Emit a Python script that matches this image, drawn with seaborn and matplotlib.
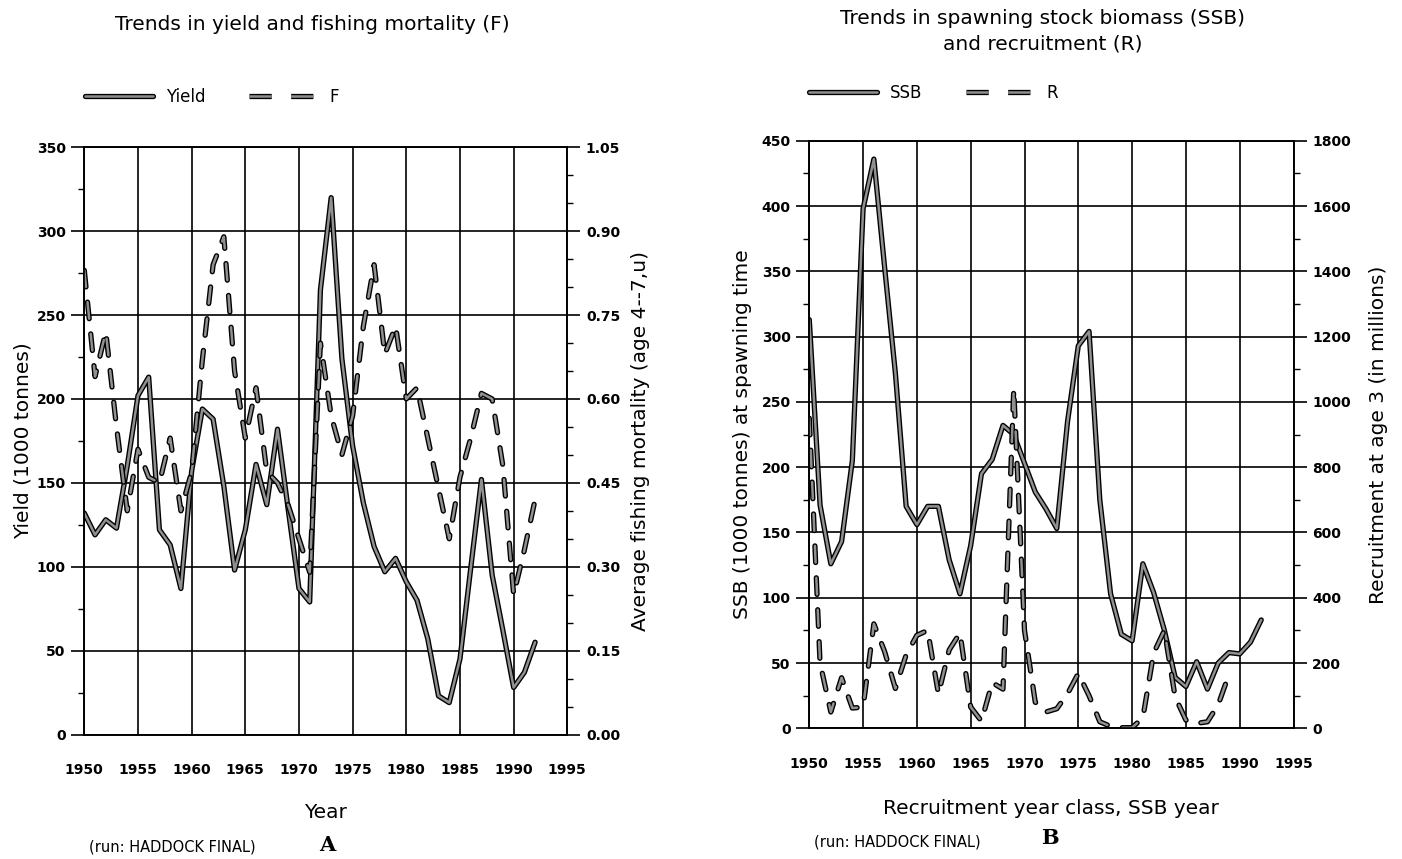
import numpy as np
import pandas as pd
import matplotlib
matplotlib.use("Agg")
import matplotlib.pyplot as plt
import matplotlib.patheffects as pe
from matplotlib.lines import Line2D
from matplotlib.ticker import MultipleLocator, FormatStrFormatter
import seaborn as sns

# ---------------- data ----------------
years = list(range(1950, 1993))
yield_kt = [132, 119, 128, 123, 160, 202, 213, 122, 113, 87,
            157, 194, 188, 148, 98, 122, 161, 137, 182, 134,
            87, 79, 265, 320, 224, 172, 138, 112, 97, 105,
            91, 80, 57, 23, 19, 45, 99, 152, 95, 62,
            28, 37, 55]
fishing_f = [0.83, 0.64, 0.72, 0.55, 0.40, 0.51, 0.46, 0.45, 0.53, 0.40,
             0.47, 0.67, 0.84, 0.89, 0.65, 0.53, 0.62, 0.47, 0.45, 0.41,
             0.35, 0.29, 0.70, 0.57, 0.50, 0.57, 0.73, 0.84, 0.68, 0.73,
             0.60, 0.62, 0.53, 0.44, 0.35, 0.46, 0.53, 0.61, 0.60, 0.48,
             0.25, 0.33, 0.42]
ssb_kt = [313, 171, 126, 143, 205, 398, 436, 353, 272, 170,
          156, 170, 170, 129, 103, 140, 195, 206, 232, 225,
          203, 181, 168, 153, 235, 293, 304, 175, 103, 72,
          67, 126, 104, 75, 39, 32, 51, 30, 50, 58,
          57, 66, 83]
recruit_years = list(range(1950, 1990))
recruits = [950, 200, 50, 155, 62, 65, 320, 235, 122, 225,
            285, 300, 105, 240, 292, 65, 22, 140, 120, 1040,
            300, 80, 50, 60, 106, 168, 100, 20, 6, 2,
            2, 32, 230, 300, 96, 25, 15, 20, 72, 165]

left_title = "Trends in yield and fishing mortality (F)"
right_title = "Trends in spawning stock biomass (SSB)\nand recruitment (R)"
run_note = "(run: HADDOCK FINAL)"

# ---------------- style ----------------
sns.set_style("white")
plt.rcParams['font.family'] = ['DejaVu Sans']
plt.rcParams['lines.scale_dashes'] = False
for key in ['text.color', 'axes.labelcolor', 'xtick.color', 'ytick.color']:
    plt.rcParams[key] = 'black'

W, H = 1402, 859
fig = plt.figure(figsize=(W / 100, H / 100), dpi=100)
fig.patch.set_facecolor("white")


def px_axes(x0, x1, ytop, ybot):
    return fig.add_axes([x0 / W, 1 - ybot / H, (x1 - x0) / W, (ybot - ytop) / H])


TICKFONT = dict(family=['Liberation Sans Narrow', 'DejaVu Sans'], weight='bold', size=10)
LW = 1.2
LINE_COLOR = '#909090'
STROKE = [pe.Stroke(linewidth=3.8, foreground='black'), pe.Normal()]
DASH = (0, (12, 11))
LABEL_SIZE = 14.5


def style_main(ax, ymax, ymaj, ymin):
    ax.set_xlim(1950, 1995)
    ax.set_ylim(0, ymax)
    ax.xaxis.set_major_locator(MultipleLocator(5))
    ax.xaxis.set_minor_locator(MultipleLocator(1))
    ax.yaxis.set_major_locator(MultipleLocator(ymaj))
    ax.yaxis.set_minor_locator(MultipleLocator(ymin))
    ax.grid(True, which='major', color='black', lw=LW)
    ax.set_axisbelow(True)
    for s in ax.spines.values():
        s.set_color('black')
        s.set_linewidth(LW)
    ax.tick_params(which='major', direction='out', length=9.4, width=LW, color='black')
    ax.tick_params(which='minor', direction='out', length=4.3, width=1.0, color='black')
    ax.tick_params(axis='x', which='major', pad=11)
    ax.tick_params(axis='y', which='major', pad=4)


def style_twin(ax, ymax, ymaj, ymin, fmt):
    ax.set_ylim(0, ymax)
    ax.yaxis.set_major_locator(MultipleLocator(ymaj))
    ax.yaxis.set_minor_locator(MultipleLocator(ymin))
    ax.yaxis.set_major_formatter(FormatStrFormatter(fmt))
    ax.grid(False)
    for s in ax.spines.values():
        s.set_color('black')
        s.set_linewidth(LW)
    ax.tick_params(which='major', direction='out', length=9.4, width=LW, color='black', pad=4)
    ax.tick_params(which='minor', direction='out', length=4.3, width=1.0, color='black')


def fonts(ax):
    for t in ax.get_xticklabels() + ax.get_yticklabels():
        t.set_fontfamily(TICKFONT['family'])
        t.set_fontweight(TICKFONT['weight'])
        t.set_fontsize(TICKFONT['size'])
        t.set_color('black')


def draw(ax, x, y, dashed=False):
    kw = dict(color=LINE_COLOR, lw=1.8, legend=False, path_effects=STROKE)
    if dashed:
        kw['linestyle'] = DASH
        kw['dash_capstyle'] = 'round'
    sns.lineplot(x=x, y=y, ax=ax, **kw)


# ---------------- panel A ----------------
axA = px_axes(84.3, 567.3, 147.3, 734.5)
axA2 = axA.twinx()
draw(axA, years, yield_kt)
draw(axA2, years, fishing_f, dashed=True)
style_main(axA, 350, 50, 25)
style_twin(axA2, 1.05, 0.15, 0.05, '%.2f')

axA.set_xlabel("Year", fontsize=LABEL_SIZE)
axA.xaxis.set_label_coords(0.5, -(813 - 734.5) / 587.2)
axA.xaxis.label.set_va('center')
axA.set_ylabel("Yield (1000 tonnes)", fontsize=LABEL_SIZE)
axA.yaxis.set_label_coords(-(84.3 - 23) / 483, 0.5)
axA.yaxis.label.set_va('center')
axA2.set_ylabel("Average fishing mortality (age 4--7,u)", fontsize=LABEL_SIZE)
axA2.yaxis.set_label_coords((641 - 84.3) / 483, 0.5)
axA2.yaxis.label.set_va('center')
fonts(axA)
fonts(axA2)

# ---------------- panel B ----------------
axB = px_axes(809.3, 1293.5, 140.8, 728.3)
axB2 = axB.twinx()
draw(axB, years, ssb_kt)
draw(axB2, recruit_years, recruits, dashed=True)
style_main(axB, 450, 50, 25)
style_twin(axB2, 1800, 200, 100, '%d')

axB.set_xlabel("Recruitment year class, SSB year", fontsize=LABEL_SIZE)
axB.xaxis.set_label_coords(0.5, -(808 - 728.3) / 587.5)
axB.xaxis.label.set_va('center')
axB.set_ylabel("SSB (1000 tonnes) at spawning time", fontsize=LABEL_SIZE)
axB.yaxis.set_label_coords(-(809.3 - 743) / 484.2, 0.5)
axB.yaxis.label.set_va('center')
axB2.set_ylabel("Recruitment at age 3 (in millions)", fontsize=LABEL_SIZE)
axB2.yaxis.set_label_coords((1379 - 809.3) / 484.2, 0.5)
axB2.yaxis.label.set_va('center')
fonts(axB)
fonts(axB2)

# ---------------- titles, legends, notes ----------------
fig.text(312 / W, 1 - 24 / H, left_title, ha='center', va='center', fontsize=14.5)
fig.text(1043 / W, 1 - 31 / H, right_title, ha='center', va='center', fontsize=14.5,
         linespacing=1.4)


def legend_handles():
    solid = Line2D([], [], color=LINE_COLOR, lw=1.8, path_effects=STROKE)
    dashed = Line2D([], [], color=LINE_COLOR, lw=1.8, path_effects=STROKE,
                    linestyle=(0, (16, 14)))
    return solid, dashed


for (x0, y0, labels) in [(85, 97, ["Yield", "F"]), (809, 93, ["SSB", "R"])]:
    h = legend_handles()
    fig.legend(h, labels, loc='center left', bbox_to_anchor=(x0 / W, 1 - y0 / H),
               ncol=2, frameon=False, fontsize=12, handlelength=4.1,
               handletextpad=0.75, columnspacing=2.6, borderpad=0, borderaxespad=0)

fig.text(172 / W, 1 - 847 / H, run_note, ha='center', va='center', fontsize=10.5)
fig.text(897 / W, 1 - 842 / H, run_note, ha='center', va='center', fontsize=10.5)
fig.text(327 / W, 1 - 845 / H, "A", ha='center', va='center', fontsize=15,
         fontweight='bold', family=['DejaVu Serif'])
fig.text(1050 / W, 1 - 838 / H, "B", ha='center', va='center', fontsize=15,
         fontweight='bold', family=['DejaVu Serif'])

fig.savefig("out.png", dpi=100, facecolor="white")
